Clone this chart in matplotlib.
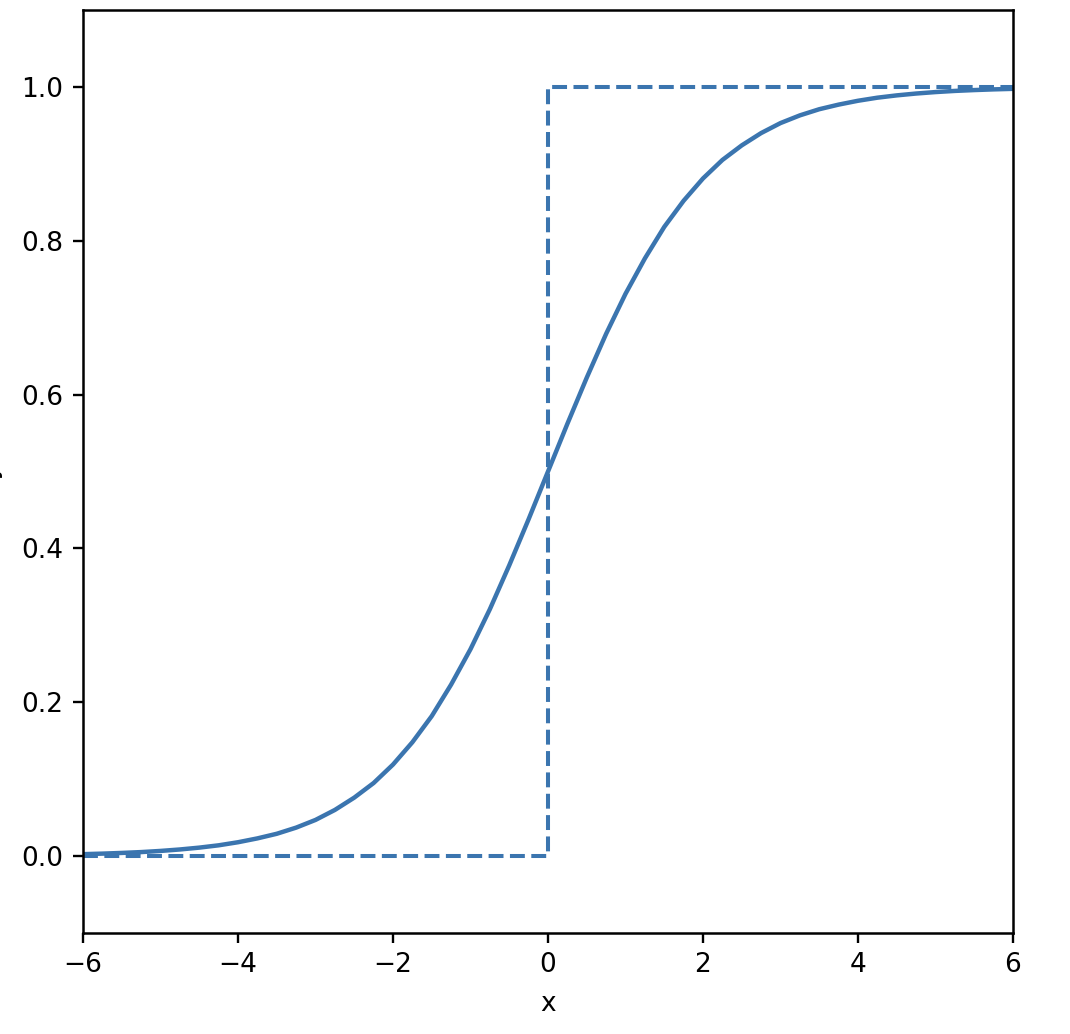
import matplotlib
matplotlib.use("Agg")
import matplotlib.pyplot as plt

# Sigmoid curve values
x_curve = [-6.0, -5.75, -5.5, -5.25, -5.0, -4.75, -4.5, -4.25, -4.0, -3.75,
           -3.5, -3.25, -3.0, -2.75, -2.5, -2.25, -2.0, -1.75, -1.5, -1.25,
           -1.0, -0.75, -0.5, -0.25, 0.0, 0.25, 0.5, 0.75, 1.0, 1.25,
           1.5, 1.75, 2.0, 2.25, 2.5, 2.75, 3.0, 3.25, 3.5, 3.75,
           4.0, 4.25, 4.5, 4.75, 5.0, 5.25, 5.5, 5.75, 6.0]
y_curve = [0.0025, 0.0032, 0.0041, 0.0052, 0.0067, 0.0086, 0.011, 0.014, 0.018, 0.023,
           0.029, 0.037, 0.047, 0.060, 0.076, 0.095, 0.119, 0.148, 0.182, 0.223,
           0.269, 0.321, 0.378, 0.438, 0.5, 0.562, 0.622, 0.679, 0.731, 0.777,
           0.818, 0.852, 0.881, 0.905, 0.924, 0.940, 0.953, 0.963, 0.971, 0.977,
           0.982, 0.986, 0.989, 0.9914, 0.9933, 0.9948, 0.9959, 0.9968, 0.9975]

# Step function
x_step = [-6.0, 0.0, 0.0, 6.0]
y_step = [0.0, 0.0, 1.0, 1.0]

x_ticks = [-6, -4, -2, 0, 2, 4, 6]
y_ticks = [0.0, 0.2, 0.4, 0.6, 0.8, 1.0]

color = "#3B75AF"

fig = plt.figure(figsize=(10.70, 10.34), dpi=100)
ax = fig.add_axes([83/1070, 1 - 933/1034, 930/1070, 923/1034])

ax.plot(x_curve, y_curve, color=color, lw=3.2, solid_joinstyle="round")
ax.plot(x_step, y_step, color=color, lw=2.9, linestyle="--")

ax.set_xlim(-6, 6)
ax.set_ylim(-0.1, 1.1)
ax.set_xticks(x_ticks)
ax.set_xticklabels(["\u2212" + str(abs(t)) if t < 0 else str(t) for t in x_ticks])
ax.set_yticks(y_ticks)
ax.set_yticklabels([f"{t:.1f}" for t in y_ticks])

ax.tick_params(labelsize=19, length=7, width=1.7, pad=7)
for s in ax.spines.values():
    s.set_linewidth(1.8)

ax.set_xlabel("x", fontsize=19, labelpad=9)
ax.set_ylabel("y", fontsize=19, labelpad=14)

fig.savefig("out.png", dpi=100)
